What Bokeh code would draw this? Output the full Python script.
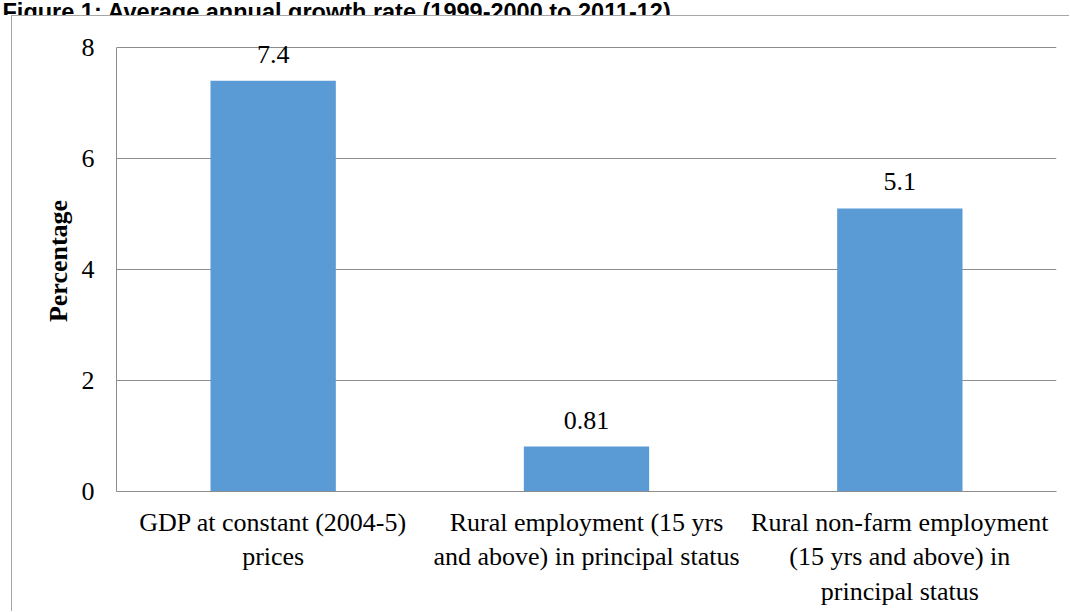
from bokeh.plotting import figure
from bokeh.layouts import column, row
from bokeh.models import ColumnDataSource, FactorRange, Range1d, LabelSet, FixedTicker
from bokeh.core.properties import value
from bokeh.embed import file_html
from bokeh.resources import INLINE

# Average annual growth rate, 1999-2000 to 2011-12
categories = [
    "GDP at constant (2004-5)\nprices",
    "Rural employment (15 yrs\nand above) in principal status",
    "Rural non-farm employment\n(15 yrs and above) in\nprincipal status",
]
growth = [7.4, 0.81, 5.1]
growth_labels = ["7.4", "0.81", "5.1"]
y_ticks = [0, 2, 4, 6, 8]
caption = "Figure 1: Average annual growth rate (1999-2000 to 2011-12)"

SERIF = "Liberation Serif"
SANS = "Liberation Sans"
GRID = "#8c8c8c"
BORDER = "#a6a6a6"
BAR = "#5B9BD5"

# caption strip: a bare canvas whose data units are pixels from its top-left corner
head = figure(width=1070, height=15, x_range=Range1d(0, 1070), y_range=Range1d(15, 0),
              x_axis_type=None, y_axis_type=None, output_backend="svg",
              toolbar_location=None, min_border=0, min_border_left=0,
              min_border_right=0, min_border_top=0, min_border_bottom=0)
head.outline_line_color = None
head.xgrid.visible = False
head.ygrid.visible = False
head.text(x=[2], y=[11], text=[caption], text_font=value(SANS), text_font_style="bold",
          text_font_size="23.5px", text_baseline="alphabetic", text_align="left",
          text_color="#000000")

# the bar chart, framed by a thin grey border on its left and top
source = ColumnDataSource(data=dict(cat=categories, val=growth, lab=growth_labels))

p = figure(
    width=1058, height=596,
    x_range=FactorRange(factors=categories, range_padding=0),
    y_range=Range1d(0, 8 + 17 / 55.5),
    output_backend="svg", toolbar_location=None,
    min_border_left=104, min_border_right=14,
    min_border_top=14, min_border_bottom=121,
    styles={"margin-left": "11px",
            "border-left": f"1px solid {BORDER}",
            "border-top": f"1px solid {BORDER}"},
)
p.outline_line_color = None
p.background_fill_color = "white"
p.border_fill_color = "white"

p.vbar(x="cat", top="val", width=0.4, source=source, fill_color=BAR, line_color=None)

# value labels above the bars
p.add_layout(LabelSet(x="cat", y="val", text="lab", source=source,
                      text_align="center", text_baseline="alphabetic", y_offset=18,
                      text_font=value(SERIF), text_font_size="26px", text_color="#000000"))

p.xgrid.grid_line_color = None
p.ygrid.grid_line_color = GRID
p.ygrid.grid_line_width = 1
p.yaxis.ticker = FixedTicker(ticks=y_ticks)
p.yaxis.bounds = (0, 8)

for ax in (p.xaxis[0], p.yaxis[0]):
    ax.axis_line_color = GRID
    ax.axis_line_width = 1
    ax.major_tick_out = 0
    ax.major_tick_in = 0
    ax.minor_tick_out = 0
    ax.minor_tick_in = 0
    ax.major_label_text_font = SERIF
    ax.major_label_text_font_size = "26px"
    ax.major_label_text_color = "#000000"

p.xaxis.major_label_standoff = 16
p.xaxis.major_label_text_line_height = 1.2
p.xaxis.major_label_orientation = "horizontal"
p.yaxis.major_label_standoff = 22
p.yaxis.axis_label = "Percentage"
p.yaxis.axis_label_text_font = SERIF
p.yaxis.axis_label_text_font_style = "bold"
p.yaxis.axis_label_text_font_size = "26px"
p.yaxis.axis_label_text_color = "#000000"
p.yaxis.axis_label_standoff = 6

layout = column(head, row(p, spacing=0), spacing=0)

open("out.html", "w").write(file_html(layout, INLINE))
